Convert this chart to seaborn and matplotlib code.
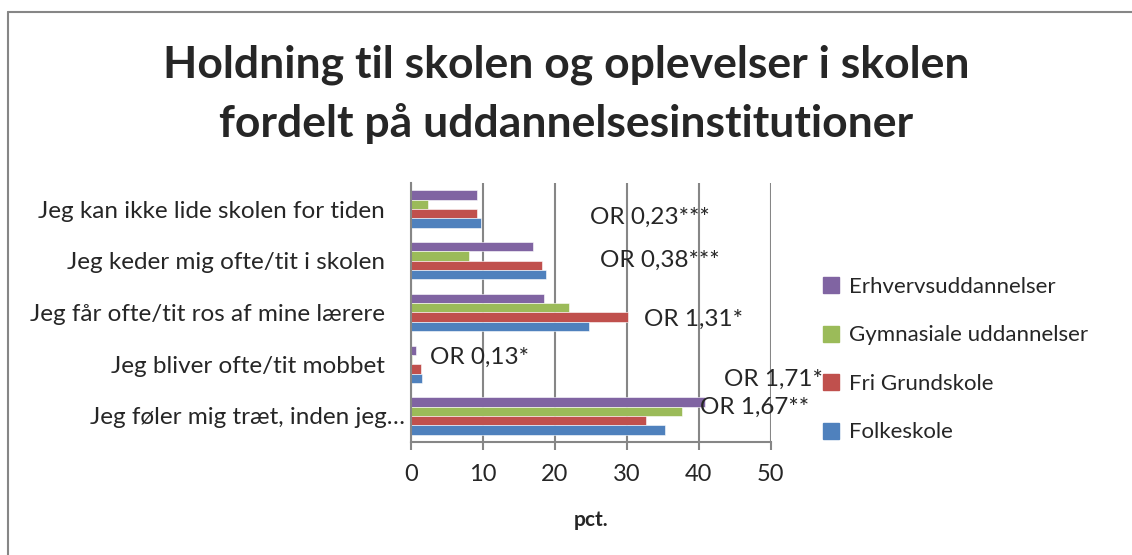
import pandas as pd
import matplotlib.pyplot as plt
import seaborn as sns
from matplotlib.lines import Line2D
from matplotlib.transforms import ScaledTranslation

# -------------------- DATA --------------------
categories = [
    "Jeg kan ikke lide skolen for tiden",
    "Jeg keder mig ofte/tit i skolen",
    "Jeg får ofte/tit ros af mine lærere",
    "Jeg bliver ofte/tit mobbet",
    "Jeg føler mig træt, inden jeg…",
]
schools = ["Erhvervsuddannelser", "Gymnasiale uddannelser", "Fri Grundskole", "Folkeskole"]

erhverv = [9.2, 16.9, 18.5, 0.7, 40.8]
gymnasiale = [2.4, 8.0, 21.9, 0.1, 37.7]
fri_grundskole = [9.2, 18.2, 30.1, 1.4, 32.7]
folkeskole = [9.7, 18.8, 24.7, 1.6, 35.3]

or_labels = ["OR 0,23***", "OR 0,38***", "OR 1,31*", "OR 0,13*", "OR 1,71*", "OR 1,67**"]
or_x = [24.9, 26.2, 32.4, 2.6, 43.5, 40.1]
or_y = [0.16, 1.0, 2.13, 2.86, 3.3, 3.84]

colors = ["#8064A2", "#9BBB59", "#C0504D", "#4F81BD"]

rows = []
for school, vals in zip(schools, [erhverv, gymnasiale, fri_grundskole, folkeskole]):
    for cat, v in zip(categories, vals):
        rows.append({"category": cat, "school": school, "pct": v})
df = pd.DataFrame(rows)

# -------------------- PLOT --------------------
sns.set_style("white")
plt.rcParams["font.family"] = ["Lato", "DejaVu Sans"]

fig = plt.figure(figsize=(11.32, 5.55), dpi=100)
ax = fig.add_axes([0.363, 0.204, 0.318, 0.466])

sns.barplot(data=df, y="category", x="pct", hue="school", order=categories,
            hue_order=schools, palette=colors, width=0.72, saturation=1,
            edgecolor="white", linewidth=0.4, ax=ax, legend=False)

ax.set_xlim(0, 50)
ax.set_xticks([0, 10, 20, 30, 40, 50])
ax.xaxis.grid(True, color="#868686", linewidth=1.5)
ax.set_axisbelow(True)
for s in ["top", "right"]:
    ax.spines[s].set_visible(False)
for s in ["left", "bottom"]:
    ax.spines[s].set_color("#868686")
    ax.spines[s].set_linewidth(1.5)
ax.tick_params(axis="x", bottom=True, direction="out", length=6, width=1.5,
               color="#868686", labelsize=17, pad=10)
ax.tick_params(axis="y", left=False, labelsize=17.5, pad=15)
ax.set_ylabel("")
ax.set_xlabel("pct.", fontsize=15, fontweight="bold", labelpad=18)

# the truncated last label sits a bit further right in the original
last = ax.get_yticklabels()[-1]
last.set_transform(last.get_transform() + ScaledTranslation(14 / 72, 0, fig.dpi_scale_trans))

for lab, x, y in zip(or_labels, or_x, or_y):
    ax.text(x, y, lab, fontsize=17.5, va="center", ha="left", clip_on=False)

fig.text(0.5, 0.83, "Holdning til skolen og oplevelser i skolen\nfordelt på uddannelsesinstitutioner",
         fontsize=32, fontweight="bold", ha="center", va="center", linespacing=1.55)

handles = [Line2D([0], [0], marker="s", linestyle="", markersize=11,
                  markerfacecolor=c, markeredgecolor=c) for c in colors]
fig.legend(handles, schools, loc="upper left", bbox_to_anchor=(0.707, 0.537),
           frameon=False, fontsize=16, handletextpad=0.3, labelspacing=1.28,
           handlelength=1.0)

# chart border (top and left edges visible)
fig.add_artist(Line2D([8 / 1132, 1], [1 - 12 / 555, 1 - 12 / 555],
                      transform=fig.transFigure, color="#868686", linewidth=1.5))
fig.add_artist(Line2D([8 / 1132, 8 / 1132], [0, 1 - 12 / 555],
                      transform=fig.transFigure, color="#868686", linewidth=1.5))

plt.savefig("out.png", dpi=100)
